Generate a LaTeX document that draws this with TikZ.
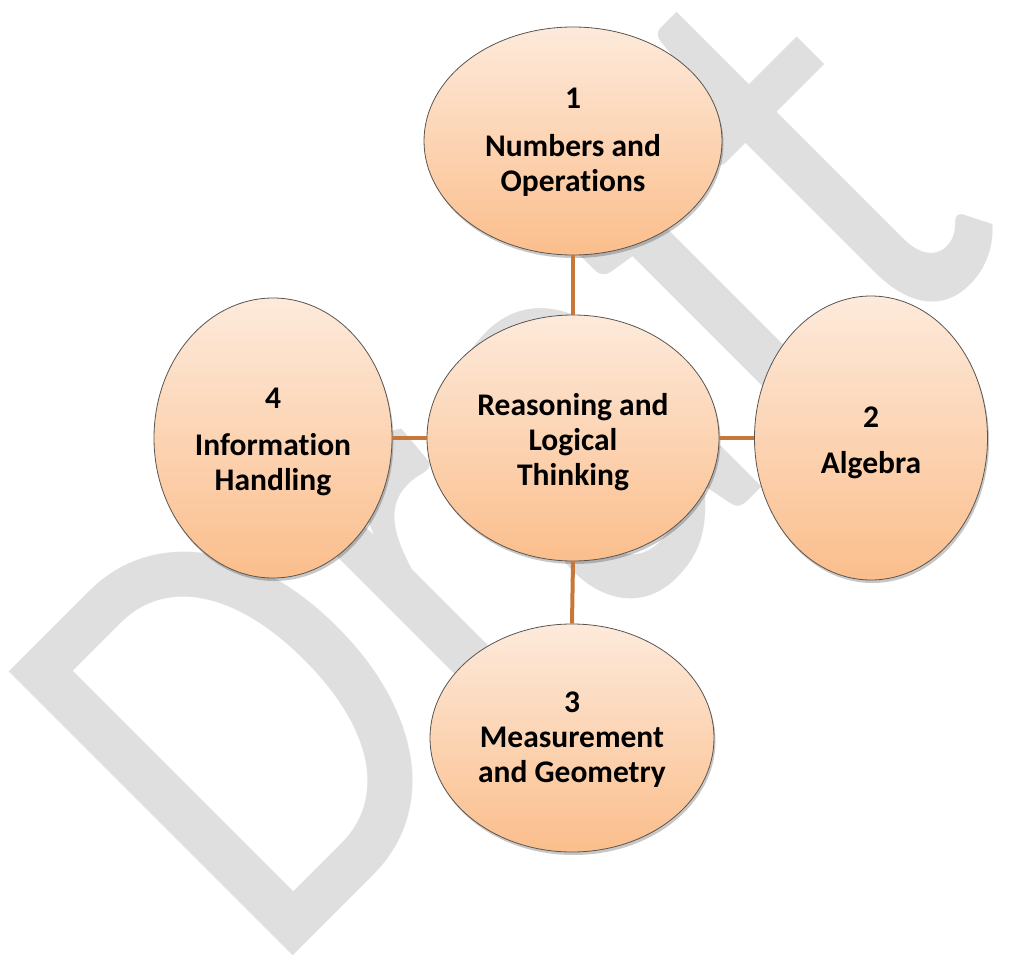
\documentclass[tikz,border=0pt]{standalone}
\usepackage{fontspec}
\setmainfont{Carlito}[Ligatures=NoCommon]
\usetikzlibrary{shapes.geometric,shadows}
\definecolor{wm}{HTML}{DFDFDF}
\definecolor{ptop}{HTML}{FDEADB}
\definecolor{pbot}{HTML}{FBBE8C}
\definecolor{link}{HTML}{C8773A}
\definecolor{rim}{HTML}{5A5550}
\tikzset{
  topic/.style={ellipse, draw=rim, line width=0.8pt, inner sep=0pt,
    top color=ptop, bottom color=pbot,
    drop shadow={shadow xshift=1.5pt, shadow yshift=-3pt, opacity=0.22, fill=black}},
  lbl/.style={align=center, inner sep=0pt,
    font={\fontsize{31.5pt}{35pt}\selectfont\bfseries}},
  link/.style={draw=link, line width=4pt}
}
\begin{document}
\begin{tikzpicture}[x=1pt,y=-1pt]
\useasboundingbox (0,0) rectangle (1015,955);
\node[rotate=45, anchor=base west, inner sep=0pt, text=wm] (wmark) at (268,981)
  {\scalebox{0.82}[1]{\fontsize{626pt}{626pt}\selectfont Draft}};
\node[topic, minimum width=298pt, minimum height=228pt] (n1) at (573,141) {};
\node[topic, minimum width=292pt, minimum height=246pt] (c) at (573,438) {};
\node[topic, minimum width=238pt, minimum height=280pt] (n4) at (273,438) {};
\node[topic, minimum width=233pt, minimum height=284pt] (n2) at (871,438) {};
\node[topic, minimum width=284pt, minimum height=228pt] (n3) at (572,738) {};
\node[lbl] (t1) at (573,142) {1\\[13pt]Numbers and\\Operations};
\node[lbl] (tc) at (573,442) {Reasoning and\\Logical\\Thinking};
\node[lbl] (t4) at (273,442) {4\\[12pt]Information\\Handling};
\node[lbl] (t2) at (871,443) {2\\[11pt]Algebra};
\node[lbl] (t3) at (572,740) {3\\Measurement\\and Geometry};
\draw[link] (n1.south) -- (c.north);
\draw[link] (c.south) -- (n3.north);
\draw[link] (n4.east) -- (c.west);
\draw[link] (c.east) -- (n2.west);
\end{tikzpicture}
\end{document}
